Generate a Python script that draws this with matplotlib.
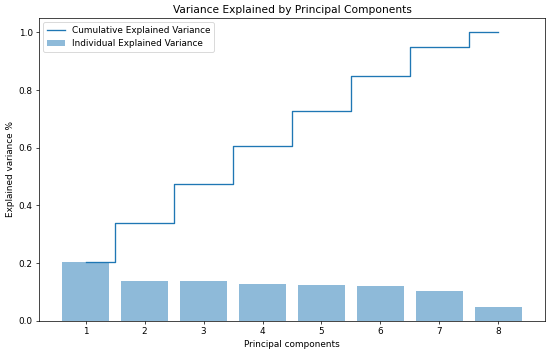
import matplotlib
matplotlib.use("Agg")
import matplotlib.pyplot as plt

components = [1, 2, 3, 4, 5, 6, 7, 8]
individual_var = [0.203, 0.139, 0.137, 0.128, 0.125, 0.120, 0.102, 0.049]
cumulative_var = [0.203, 0.340, 0.475, 0.605, 0.728, 0.849, 0.951, 1.0]

fig = plt.figure(figsize=(550 / 64, 354 / 64), dpi=64)
ax = fig.add_axes([0.0709, 0.094, 0.92, 0.855])

ax.bar(components, individual_var, alpha=0.5, align="center",
       label="Individual Explained Variance")
ax.step(components, cumulative_var, where="mid",
        label="Cumulative Explained Variance")

ax.set_ylabel("Explained variance %")
ax.set_xlabel("Principal components")
ax.set_title("Variance Explained by Principal Components")
ax.legend(loc="best")

fig.savefig("out.png", dpi=64)
